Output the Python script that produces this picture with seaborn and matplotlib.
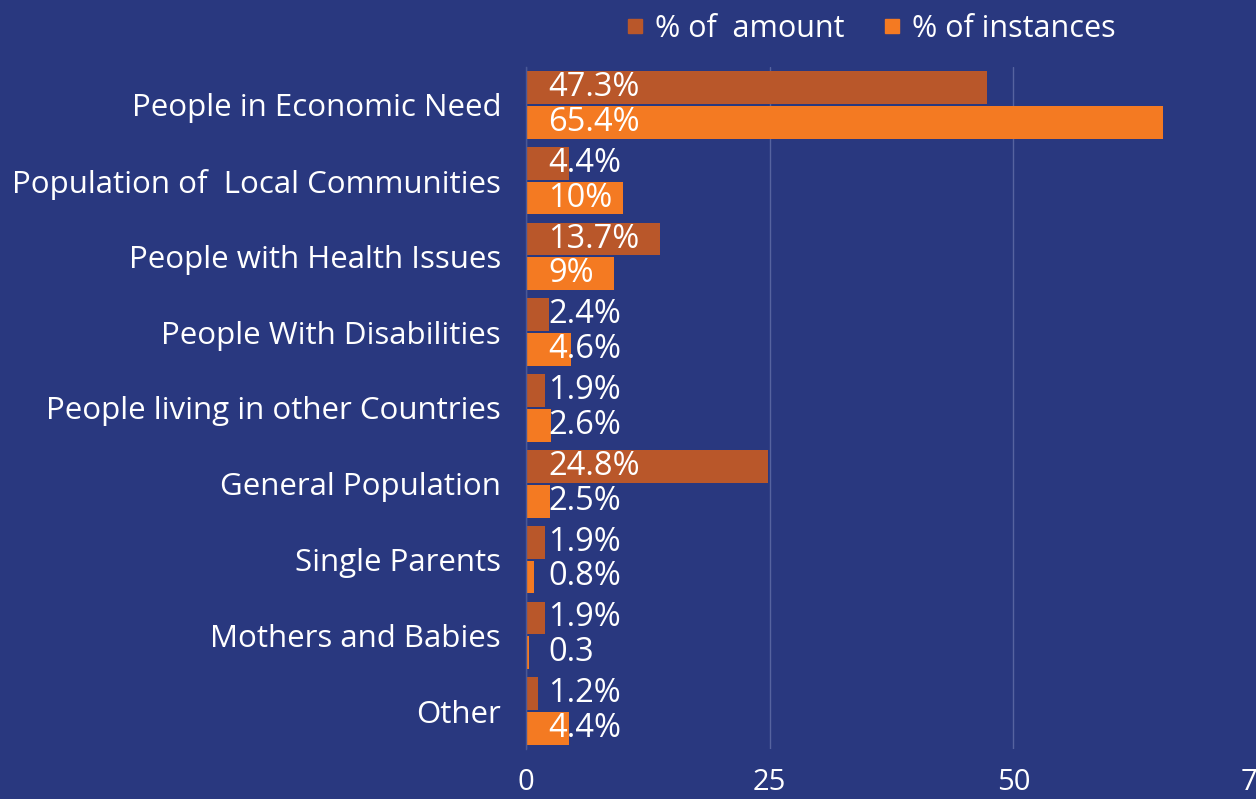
import pandas as pd
import numpy as np
import matplotlib
matplotlib.use('Agg')
import matplotlib.pyplot as plt
import seaborn as sns
from matplotlib.lines import Line2D

# data
categories = ['People in Economic Need', 'Population of  Local Communities',
              'People with Health Issues', 'People With Disabilities',
              'People living in other Countries', 'General Population',
              'Single Parents', 'Mothers and Babies', 'Other']
amount = [47.3, 4.4, 13.7, 2.4, 1.9, 24.8, 1.9, 1.9, 1.2]
instances = [65.4, 10, 9, 4.6, 2.6, 2.5, 0.8, 0.3, 4.4]
amount_labels = ['47.3%', '4.4%', '13.7%', '2.4%', '1.9%', '24.8%', '1.9%', '1.9%', '1.2%']
instances_labels = ['65.4%', '10%', '9%', '4.6%', '2.6%', '2.5%', '0.8%', '0.3', '4.4%']
series = ['% of  amount', '% of instances']

bg = '#29387F'
c_amount = '#B9572A'
c_inst = '#F47A22'

df = pd.DataFrame({
    'category': categories * 2,
    'value': amount + instances,
    'series': [series[0]] * len(categories) + [series[1]] * len(categories),
})

sns.set_style('white')
plt.rcParams['font.family'] = ['Open Sans', 'DejaVu Sans']

fig = plt.figure(figsize=(12.56, 7.99), dpi=100, facecolor=bg)
ax = fig.add_axes([526 / 1256, 1 - 749 / 799, 731 / 1256, 682 / 799])
ax.set_facecolor(bg)

sns.barplot(data=df, y='category', x='value', hue='series', orient='h',
            palette=[c_amount, c_inst], saturation=1, linewidth=0,
            width=0.92, gap=0.06,
            order=categories, hue_order=series, legend=False, ax=ax)

ax.set_xlim(0, 75)
ax.set_xticks([0, 25, 50, 75])
ax.set_xticklabels(['0', '25', '50', '75'])
ax.xaxis.grid(True, color='#56639F', linewidth=1)
ax.set_axisbelow(True)
for s in ['top', 'right', 'bottom']:
    ax.spines[s].set_visible(False)
ax.spines['left'].set_color('#4A5896')
ax.spines['left'].set_linewidth(1)
ax.tick_params(axis='x', colors='white', labelsize=21, length=0, pad=14)
ax.tick_params(axis='y', colors='white', labelsize=22.5, length=0, pad=18)
ax.set_xlabel('')
ax.set_ylabel('')

# value labels, all start near the bar base
for i in range(len(categories)):
    ax.text(2.3, i - 0.23, amount_labels[i], color='white', fontsize=23.5,
            va='center', ha='left')
    ax.text(2.3, i + 0.23, instances_labels[i], color='white', fontsize=23.5,
            va='center', ha='left')

handles = [Line2D([0], [0], marker='s', linestyle='', color=c_amount, markersize=10),
           Line2D([0], [0], marker='s', linestyle='', color=c_inst, markersize=10)]
leg = fig.legend(handles, series, loc='center', bbox_to_anchor=(870 / 1256, 1 - 29 / 799),
                 ncol=2, frameon=False, fontsize=22, handletextpad=0.3,
                 columnspacing=1.2, handlelength=0.7)
for t in leg.get_texts():
    t.set_color('white')

fig.savefig('out.png', dpi=100, facecolor=bg)
